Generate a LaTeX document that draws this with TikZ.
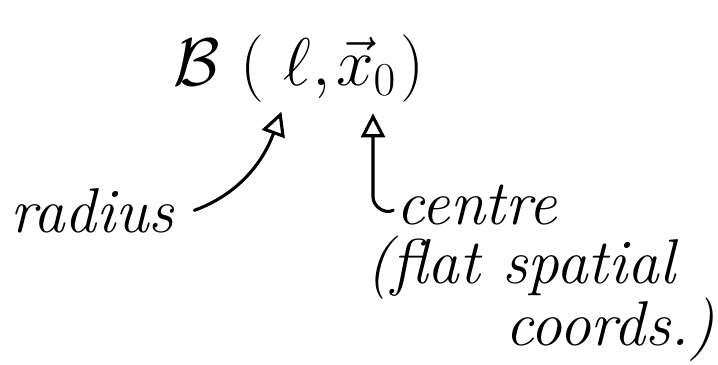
\RequirePackage{fix-cm}
\documentclass[tikz,border=0pt]{standalone}
\usepackage{amsmath,amssymb}
\usepackage{tikz}
\usetikzlibrary{arrows.meta, positioning}

\begin{document}
\begin{tikzpicture}[x=0.025cm, y=0.025cm,
    sym/.style={inner sep=0pt, anchor=base, font=\fontsize{48}{56}\selectfont},
    note/.style={inner sep=0pt, anchor=base west, font=\fontsize{45}{52}\selectfont\itshape},
    link/.style={line width=2.2pt, line cap=round, -{Triangle[open, length=17pt, width=17pt, line width=2.2pt]}}]
  \useasboundingbox (0,0) rectangle (718,364);
  % the ball B(l, x0)
  \node[sym] (B) at (197,279) {$\mathcal{B}$};
  \node[sym] (lp) at (252,279) {$($};
  \node[sym] (ell) at (297,279) {$\ell$};
  \node[sym] (cm) at (322,279) {$,$};
  \node[sym] (xo) at (366,279) {$\vec{x}_0$};
  \node[sym] (rp) at (412,279) {$)$};
  % notes
  \node[note] (rad) at (10,132) {radius};
  \node[note] (ctr) at (396,140) {centre};
  \node[note] (flat) at (366,81) {(flat spatial};
  \node[note] (crd) at (505,19) {coords.)};
  \coordinate (hook) at (373,167);
  \draw[link, shorten >=0.7cm] ([xshift=0.5cm]rad.east) to[out=20, in=-110] ([xshift=-0.15cm]ell.south);
  \draw[link, shorten >=0.45cm] ([xshift=-2pt, yshift=-4pt]ctr.west) to[out=-150, in=-90] (hook) -- (hook |- xo.south);
\end{tikzpicture}
\end{document}
